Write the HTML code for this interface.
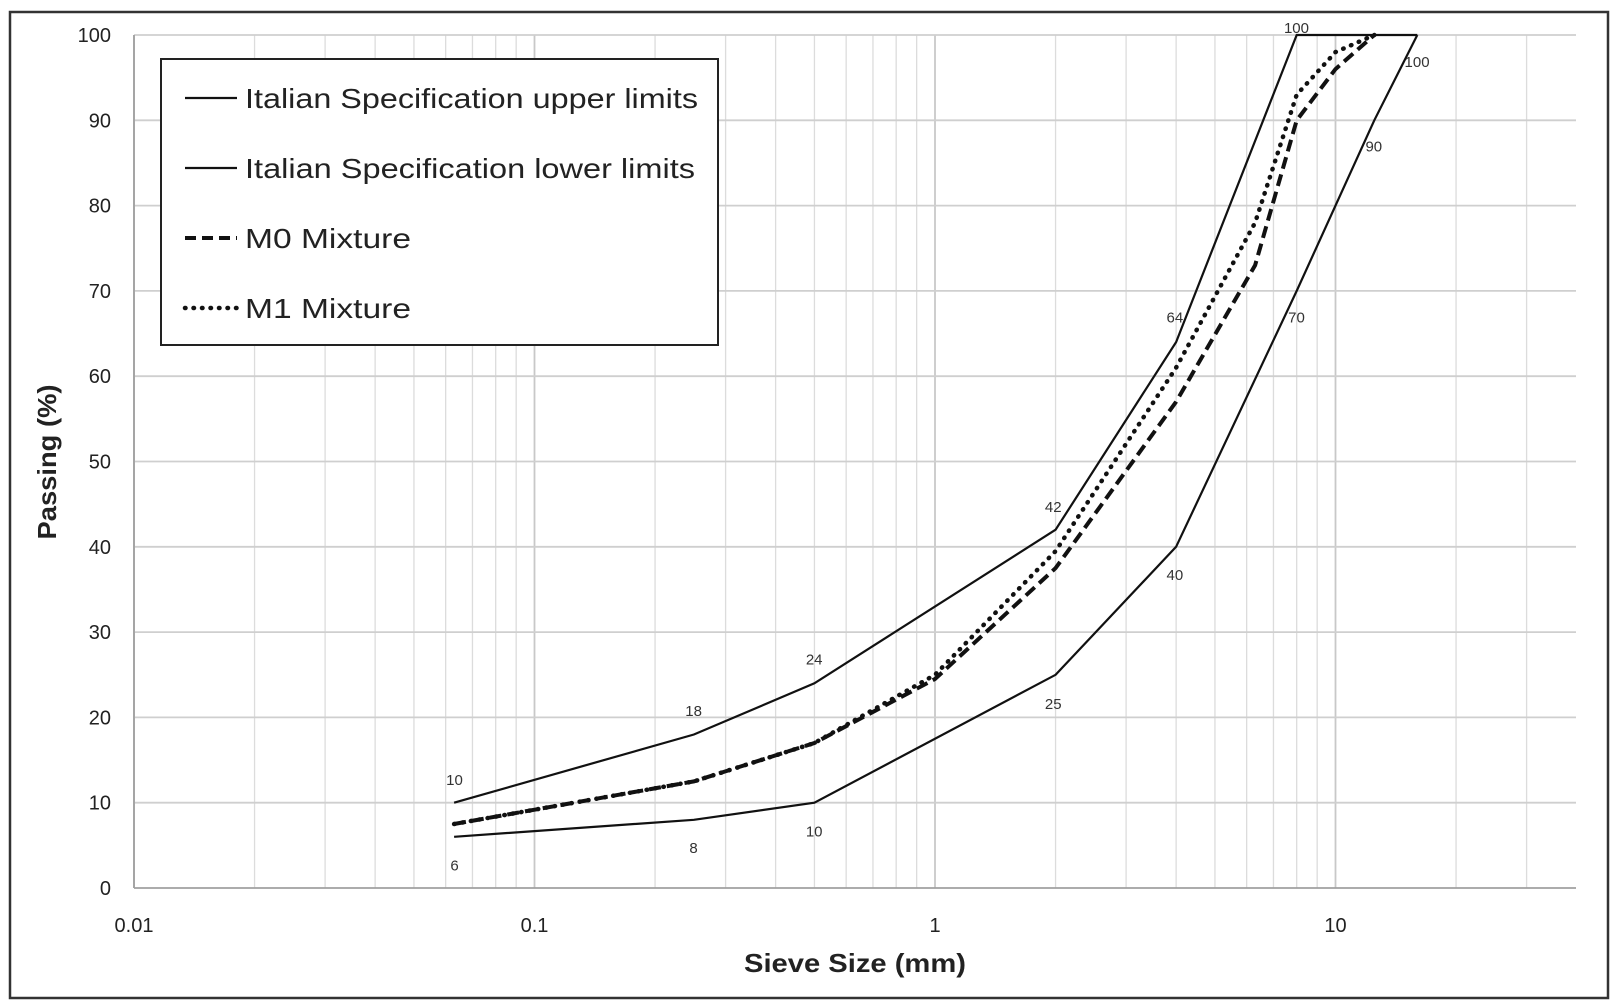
<!DOCTYPE html>
<html><head><meta charset="utf-8"><style>
html,body{margin:0;padding:0;background:#fff;}
svg{display:block;font-family:"Liberation Sans",sans-serif;}
</style></head><body>
<svg id="s" width="1616" height="1001" xmlns="http://www.w3.org/2000/svg"></svg>
<script>
const s=document.getElementById('s');
const X0=134, D=400.5, Y0=888, U=8.53;
const fx=v=>X0+(Math.log10(v)+2)*D, fy=v=>Y0-v*U;
let h='';
h+='<rect x="10" y="12" width="1598" height="986" fill="#fff" stroke="#333" stroke-width="2.5"/>';
for(let e=-2;e<=1;e++){for(let m=1;m<=9;m++){const v=m*Math.pow(10,e);const x=fx(v);if(x>1576)continue;
 h+=`<line x1="${x}" y1="${fy(100)}" x2="${x}" y2="${Y0}" stroke="${m==1?'#c8c8c8':'#dcdcdc'}" stroke-width="${m==1?1.8:1.3}"/>`;}}
for(let i=1;i<=10;i++){h+=`<line x1="${X0}" y1="${fy(i*10)}" x2="1576" y2="${fy(i*10)}" stroke="#cfcfcf" stroke-width="1.8"/>`;}
h+=`<line x1="${X0}" y1="${fy(100)}" x2="${X0}" y2="${Y0}" stroke="#a0a0a0" stroke-width="1.8"/>`;
h+=`<line x1="${X0}" y1="${Y0}" x2="1576" y2="${Y0}" stroke="#a0a0a0" stroke-width="1.8"/>`;
for(let i=0;i<=10;i++){h+=`<text x="111" y="${fy(i*10)+7}" font-size="20" text-anchor="end" fill="#222">${i*10}</text>`;}
[['0.01',0.01],['0.1',0.1],['1',1],['10',10]].forEach(([t,v])=>{h+=`<text x="${fx(v)}" y="932" font-size="20" text-anchor="middle" fill="#222">${t}</text>`;});
h+=`<text x="744" y="972" font-size="26" font-weight="bold" fill="#222" textLength="222" lengthAdjust="spacingAndGlyphs">Sieve Size (mm)</text>`;
h+=`<text transform="translate(56,462) rotate(-90)" font-size="26" font-weight="bold" text-anchor="middle" fill="#222" textLength="155" lengthAdjust="spacingAndGlyphs">Passing (%)</text>`;
const pl=(pts,extra)=>`<polyline fill="none" stroke="#111" ${extra} points="${pts.map(p=>fx(p[0]).toFixed(1)+','+fy(p[1]).toFixed(1)).join(' ')}"/>`;
const up=[[0.063,10],[0.25,18],[0.5,24],[2,42],[4,64],[8,100],[16,100]];
const lo=[[0.063,6],[0.25,8],[0.5,10],[2,25],[4,40],[8,70],[12.5,90],[16,100]];
const m0=[[0.063,7.5],[0.25,12.5],[0.5,17],[1,24.5],[2,37.5],[4,57],[6.3,73],[8,90],[10,96],[12.5,100]];
const m1=[[0.063,7.5],[0.25,12.5],[0.5,17],[1,25],[2,39.5],[4,61],[6.3,78],[8,93],[10,98],[12.5,100]];
h+=pl(up,'stroke-width="2.2"');h+=pl(lo,'stroke-width="2.2"');
h+=pl(m1,'stroke-width="4.5" stroke-dasharray="0.5 8" stroke-linecap="round"');
h+=pl(m0,'stroke-width="4" stroke-dasharray="12 6"');
const lab=[['10',441,757],['18',673,690],['24',790,640],['42',1022,492],['64',1140,308],['100',1258,27],['6',441,840],['8',673,823],['10',790,807],['25',1022,683],['40',1140,558],['70',1258,308],['90',1333,142],['100',1375,60]];
lab.forEach(([t,x,y])=>{h+=`<text x="${x*1.0306}" y="${y*1.0306+5}" font-size="15" text-anchor="middle" fill="#333">${t}</text>`;});
h+='<rect x="161" y="59" width="557" height="286" fill="#fff" stroke="#222" stroke-width="2"/>';
const L=[['Italian Specification upper limits','',453],['Italian Specification lower limits','',450],['M0 Mixture','stroke-width="4" stroke-dasharray="11 6"',166],['M1 Mixture','stroke-width="4.5" stroke-dasharray="0.5 8" stroke-linecap="round"',166]];
L.forEach(([t,st,w],i)=>{const y=98+i*70;
 h+=`<line x1="185" y1="${y}" x2="237" y2="${y}" stroke="#111" ${st||'stroke-width="2.2"'}/>`;
 h+=`<text x="245" y="${y+10}" font-size="28" fill="#222" textLength="${w}" lengthAdjust="spacingAndGlyphs">${t}</text>`;});
s.innerHTML=h;
</script>
</body></html>
